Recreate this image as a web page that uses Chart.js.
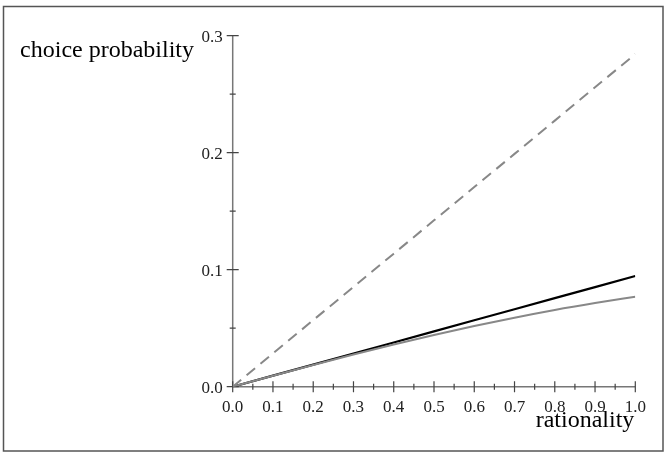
<!DOCTYPE html>
<html>
<head>
<meta charset="utf-8">
<script src="https://cdn.jsdelivr.net/npm/chart.js@4"></script>
<style>
  body { margin: 0; background: #fff; }
  canvas { display: block; }
</style>
</head>
<body>
<canvas id="chart" width="669" height="458"></canvas>
<script>
// ===== Data =====
const rationality = [0, 0.1, 0.2, 0.3, 0.4, 0.5, 0.6, 0.7, 0.8, 0.9, 1.0];
const blackLine = [0, 0.0095, 0.0189, 0.0284, 0.0378, 0.0473, 0.0568, 0.0662, 0.0757, 0.0851, 0.0946];
const grayLine = [0, 0.0094, 0.0186, 0.0275, 0.0360, 0.0442, 0.0518, 0.0590, 0.0656, 0.0715, 0.0769];
const dashedLine = [0, 0.0284, 0.0569, 0.0853, 0.1137, 0.1422, 0.1706, 0.1990, 0.2274, 0.2559, 0.2843];

const xMajorTicks = [0, 0.1, 0.2, 0.3, 0.4, 0.5, 0.6, 0.7, 0.8, 0.9, 1.0];
const xMinorTicks = [0.05, 0.15, 0.25, 0.35, 0.45, 0.55, 0.65, 0.75, 0.85, 0.95];
const yMajorTicks = [0, 0.1, 0.2, 0.3];
const yMinorTicks = [0.05, 0.15, 0.25];

const xTitle = "rationality";
const yTitle = "choice probability";

const points = (ys) => rationality.map((x, i) => ({ x: x, y: ys[i] }));

// ===== Axes, ticks, frame (Mathematica style) =====
const axesPlugin = {
  id: "axesPlugin",
  beforeDraw(chart) {
    const ctx = chart.ctx;
    ctx.save();
    ctx.fillStyle = "#fff";
    ctx.fillRect(0, 0, chart.width, chart.height);
    ctx.strokeStyle = "#555";
    ctx.lineWidth = 1.5;
    ctx.strokeRect(3.5, 6.5, 659.5, 444.5);
    ctx.restore();
  },
  beforeDatasetsDraw(chart) {
    const ctx = chart.ctx;
    const xs = chart.scales.x;
    const ys = chart.scales.y;
    const x0 = xs.getPixelForValue(0);
    const y0 = ys.getPixelForValue(0);

    ctx.save();
    ctx.strokeStyle = "#777";
    ctx.lineWidth = 1.5;

    // axis lines
    ctx.beginPath();
    ctx.moveTo(x0, y0);
    ctx.lineTo(xs.getPixelForValue(1), y0);
    ctx.moveTo(x0, y0);
    ctx.lineTo(x0, ys.getPixelForValue(0.3));
    ctx.stroke();

    // ticks
    ctx.lineWidth = 1.2;
    ctx.strokeStyle = "#444";
    ctx.beginPath();
    xMajorTicks.forEach((v) => {
      const p = xs.getPixelForValue(v);
      ctx.moveTo(p, y0 - 5.5);
      ctx.lineTo(p, y0 + 5.5);
    });
    xMinorTicks.forEach((v) => {
      const p = xs.getPixelForValue(v);
      ctx.moveTo(p, y0 - 3);
      ctx.lineTo(p, y0 + 3);
    });
    yMajorTicks.forEach((v) => {
      const p = ys.getPixelForValue(v);
      ctx.moveTo(x0 - 6, p);
      ctx.lineTo(x0 + 6, p);
    });
    yMinorTicks.forEach((v) => {
      const p = ys.getPixelForValue(v);
      ctx.moveTo(x0 - 3, p);
      ctx.lineTo(x0 + 3, p);
    });
    ctx.stroke();

    // tick labels
    ctx.fillStyle = "#222";
    ctx.font = "17px 'Liberation Serif'";
    ctx.textAlign = "center";
    ctx.textBaseline = "alphabetic";
    xMajorTicks.forEach((v) => {
      ctx.fillText(v.toFixed(1), xs.getPixelForValue(v), y0 + 25);
    });
    ctx.textAlign = "right";
    ctx.textBaseline = "middle";
    yMajorTicks.forEach((v) => {
      ctx.fillText(v.toFixed(1), x0 - 10, ys.getPixelForValue(v) + 1.5);
    });

    // axis titles
    ctx.fillStyle = "#000";
    ctx.font = "24px 'Liberation Serif'";
    ctx.textAlign = "right";
    ctx.textBaseline = "alphabetic";
    ctx.fillText(yTitle, 194, 57);
    ctx.fillText(xTitle, xs.getPixelForValue(1) - 1, 427);
    ctx.restore();
  },
};

// ===== Chart =====
const chart = new Chart(document.getElementById("chart"), {
  type: "line",
  data: {
    datasets: [
      {
        data: points(dashedLine),
        borderColor: "#888",
        borderWidth: 2,
        borderDash: [11, 7],
        pointRadius: 0,
      },
      {
        data: points(grayLine),
        borderColor: "#888",
        borderWidth: 2,
        cubicInterpolationMode: "monotone",
        pointRadius: 0,
      },
      {
        data: points(blackLine),
        borderColor: "#000",
        borderWidth: 2.2,
        pointRadius: 0,
      },
    ],
  },
  options: {
    responsive: false,
    devicePixelRatio: 1,
    animation: false,
    layout: {
      padding: { left: 232.7, right: 33.7, top: 35.7, bottom: 71.3 },
    },
    plugins: {
      legend: { display: false },
      tooltip: { enabled: false },
    },
    scales: {
      x: { type: "linear", min: 0, max: 1, display: false },
      y: { type: "linear", min: 0, max: 0.3, display: false },
    },
  },
  plugins: [axesPlugin],
});
</script>
</body>
</html>
